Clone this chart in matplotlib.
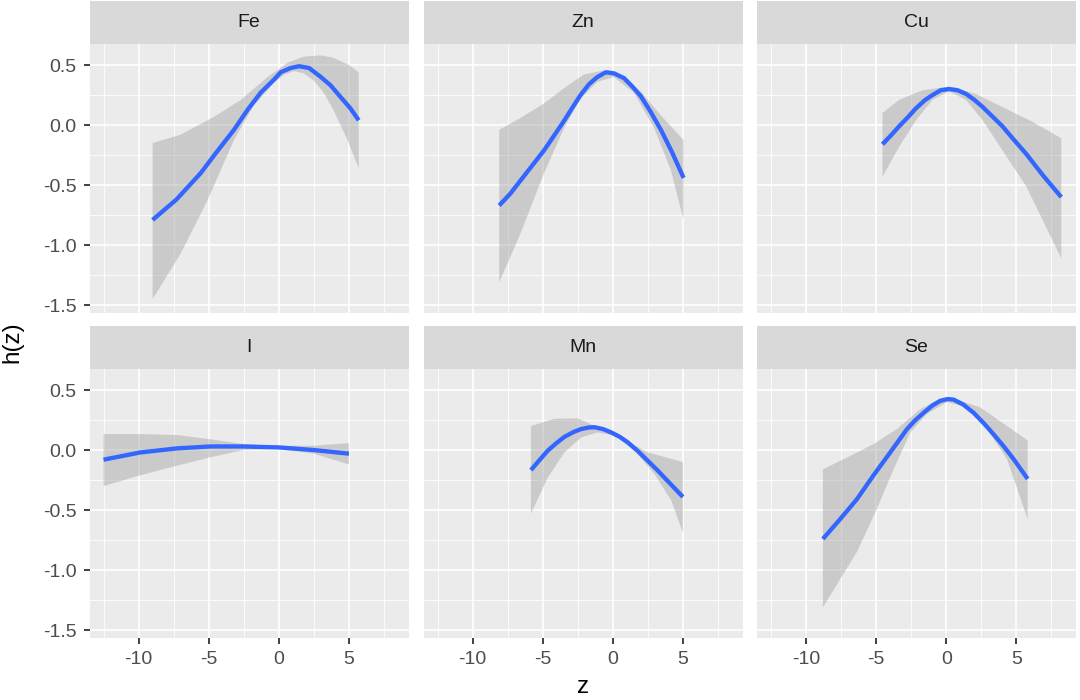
import matplotlib
matplotlib.use("Agg")
import matplotlib.pyplot as plt

plt.rcParams['font.family'] = ['Liberation Sans', 'DejaVu Sans']

# ---------------- data ----------------
panels = ["Fe", "Zn", "Cu", "I", "Mn", "Se"]

fe_x = [-9.0, -7.3, -5.57, -4.4, -3.2, -2.24, -1.29, -0.33, 0.14, 0.84, 1.45, 2.16, 2.5, 3.0, 3.7, 4.43, 5.1, 5.7]
fe_fit = [-0.79, -0.62, -0.40, -0.22, -0.04, 0.125, 0.27, 0.38, 0.44, 0.475, 0.49, 0.475, 0.445, 0.40, 0.33, 0.23, 0.14, 0.04]
fe_up_x = [-9.0, -7.0, -4.6, -2.7, -0.8, 0.64, 1.8, 3.0, 3.9, 5.0, 5.7]
fe_up = [-0.15, -0.08, 0.07, 0.21, 0.40, 0.52, 0.57, 0.58, 0.56, 0.50, 0.44]
fe_lo_x = [-9.0, -7.0, -5.1, -3.2, -1.8, -0.36, 0.4, 1.1, 1.8, 2.5, 3.2, 3.9, 4.9, 5.7]
fe_lo = [-1.45, -1.07, -0.63, -0.125, 0.16, 0.35, 0.42, 0.45, 0.43, 0.37, 0.27, 0.125, -0.125, -0.36]

zn_x = [-8.1, -7.3, -6.57, -5.7, -4.9, -4.2, -3.45, -2.8, -2.3, -1.7, -1.1, -0.5, 0.1, 0.81, 1.4, 2.0, 2.7, 3.43, 4.2, 5.05]
zn_fit = [-0.67, -0.57, -0.46, -0.33, -0.21, -0.09, 0.04, 0.16, 0.25, 0.34, 0.40, 0.44, 0.43, 0.39, 0.32, 0.24, 0.11, -0.04, -0.22, -0.44]
zn_up_x = [-8.1, -6.57, -4.9, -3.45, -2.07, -0.86, 0.57, 2.0, 3.43, 5.05]
zn_up = [-0.04, 0.06, 0.18, 0.31, 0.42, 0.45, 0.42, 0.28, 0.08, -0.125]
zn_lo_x = [-8.1, -6.57, -4.9, -3.45, -2.3, -1.1, 0.07, 1.5, 2.93, 4.14, 5.05]
zn_lo = [-1.31, -0.90, -0.40, -0.02, 0.22, 0.36, 0.40, 0.27, -0.02, -0.375, -0.79]

cu_x = [-4.55, -3.9, -3.36, -2.7, -2.16, -1.5, -0.98, -0.4, 0.2, 0.8, 1.4, 2.0, 2.6, 3.3, 4.0, 4.8, 5.7, 6.9, 8.2]
cu_fit = [-0.16, -0.08, -0.01, 0.07, 0.14, 0.21, 0.25, 0.29, 0.30, 0.29, 0.26, 0.21, 0.15, 0.07, -0.01, -0.12, -0.24, -0.42, -0.60]
cu_up_x = [-4.55, -3.36, -1.7, 0.2, 2.1, 4.0, 6.1, 8.2]
cu_up = [0.10, 0.21, 0.29, 0.32, 0.26, 0.15, 0.03, -0.11]
cu_lo_x = [-4.55, -3.36, -2.16, -0.98, 0.2, 1.4, 2.6, 4.0, 5.7, 8.2]
cu_lo = [-0.43, -0.18, 0.04, 0.21, 0.28, 0.21, 0.04, -0.21, -0.51, -1.11]

i_x = [-12.5, -9.88, -7.26, -4.88, -2.5, 0.0, 2.5, 5.0]
i_fit = [-0.08, -0.02, 0.014, 0.03, 0.03, 0.022, 0.0, -0.03]
i_up_x = [-12.5, -9.88, -7.26, -4.88, -2.5, 0.0, 2.5, 5.0]
i_up = [0.133, 0.133, 0.125, 0.09, 0.05, 0.036, 0.036, 0.058]
i_lo_x = [-12.5, -9.88, -7.26, -4.88, -2.5, 0.0, 2.5, 5.0]
i_lo = [-0.30, -0.21, -0.13, -0.06, 0.0, 0.008, -0.03, -0.12]

mn_x = [-5.84, -5.2, -4.64, -4.0, -3.45, -2.8, -2.26, -1.7, -1.31, -0.7, -0.12, 0.5, 1.07, 1.8, 2.5, 3.2, 3.93, 5.0]
mn_fit = [-0.167, -0.08, -0.005, 0.06, 0.11, 0.15, 0.175, 0.188, 0.19, 0.175, 0.147, 0.11, 0.064, -0.01, -0.09, -0.17, -0.26, -0.39]
mn_up_x = [-5.84, -4.17, -2.5, -1.07, 0.6, 2.5, 5.0]
mn_up = [0.20, 0.26, 0.264, 0.19, 0.10, -0.02, -0.10]
mn_lo_x = [-5.84, -4.64, -3.45, -2.26, -1.07, 0.12, 1.55, 2.98, 4.17, 5.0]
mn_lo = [-0.53, -0.23, -0.02, 0.105, 0.147, 0.12, -0.005, -0.20, -0.42, -0.69]

se_x = [-8.8, -7.57, -6.38, -5.19, -4.0, -2.8, -2.2, -1.62, -1.0, -0.43, 0.1, 0.52, 1.2, 1.95, 2.7, 3.38, 4.1, 4.8, 5.8]
se_fit = [-0.74, -0.575, -0.41, -0.21, -0.02, 0.175, 0.25, 0.31, 0.37, 0.41, 0.425, 0.42, 0.38, 0.31, 0.22, 0.13, 0.03, -0.075, -0.24]
se_up_x = [-8.8, -6.86, -5.19, -3.52, -1.86, -0.43, 1.0, 2.43, 4.33, 5.8]
se_up = [-0.16, -0.05, 0.05, 0.175, 0.34, 0.43, 0.41, 0.355, 0.20, 0.08]
se_lo_x = [-8.8, -7.57, -6.38, -4.95, -3.76, -2.57, -1.38, 0.05, 1.48, 2.9, 4.33, 5.8]
se_lo = [-1.31, -1.075, -0.85, -0.49, -0.16, 0.147, 0.30, 0.40, 0.355, 0.175, -0.075, -0.575]

x_ticks = [-10, -5, 0, 5]
x_minor = [-12.5, -7.5, -2.5, 2.5, 7.5]
y_ticks = [-1.5, -1.0, -0.5, 0.0, 0.5]
y_minor = [-1.25, -0.75, -0.25, 0.25]
x_label = "z"
y_label = "h(z)"

series = {
    "Fe": (fe_x, fe_fit, fe_up_x, fe_up, fe_lo_x, fe_lo),
    "Zn": (zn_x, zn_fit, zn_up_x, zn_up, zn_lo_x, zn_lo),
    "Cu": (cu_x, cu_fit, cu_up_x, cu_up, cu_lo_x, cu_lo),
    "I": (i_x, i_fit, i_up_x, i_up, i_lo_x, i_lo),
    "Mn": (mn_x, mn_fit, mn_up_x, mn_up, mn_lo_x, mn_lo),
    "Se": (se_x, se_fit, se_up_x, se_up, se_lo_x, se_lo),
}

# ---------------- layout ----------------
W, H = 1080, 700
fig = plt.figure(figsize=(W / 100, H / 100), dpi=100)
fig.patch.set_facecolor("white")

col_left = [89.5, 423.5, 757]
panel_w = 319
row_top = [44, 369]
panel_h = 269
strip_h = 43

XLIM = (-13.5, 9.25)
YLIM = (-1.565, 0.675)

for idx, name in enumerate(panels):
    r, c = divmod(idx, 3)
    left = col_left[c]
    top = row_top[r]
    ax = fig.add_axes([left / W, 1 - (top + panel_h) / H, panel_w / W, panel_h / H])
    ax.set_facecolor("#EBEBEB")
    ax.set_xlim(*XLIM)
    ax.set_ylim(*YLIM)
    ax.set_xticks(x_ticks)
    ax.set_xticks(x_minor, minor=True)
    ax.set_yticks(y_ticks)
    ax.set_yticks(y_minor, minor=True)
    ax.grid(which="major", color="white", linewidth=1.2)
    ax.grid(which="minor", color="white", linewidth=0.6)
    ax.set_axisbelow(True)
    for s in ax.spines.values():
        s.set_visible(False)
    ax.tick_params(which="minor", length=0)
    ax.tick_params(which="major", length=4.5, width=1.3, color="#333333",
                   labelcolor="#4D4D4D", labelsize=14, pad=5)
    if c == 0:
        ax.set_yticklabels([f"{v:.1f}" for v in y_ticks])
    else:
        ax.tick_params(axis="y", which="major", length=0, labelleft=False)
    if r == 1:
        ax.set_xticklabels([str(v) for v in x_ticks])
    else:
        ax.tick_params(axis="x", which="major", length=0, labelbottom=False)

    xs, fit, ux, uy, lx, ly = series[name]
    poly_x = list(ux) + list(lx)[::-1]
    poly_y = list(uy) + list(ly)[::-1]
    ax.fill(poly_x, poly_y, color="#999999", alpha=0.4, linewidth=0, zorder=2)
    ax.plot(xs, fit, color="#3366FF", linewidth=3.1, solid_capstyle="butt",
            solid_joinstyle="round", zorder=3)

    # strip
    sax = fig.add_axes([left / W, 1 - top / H, panel_w / W, strip_h / H])
    sax.set_facecolor("#D9D9D9")
    sax.set_xticks([])
    sax.set_yticks([])
    for s in sax.spines.values():
        s.set_visible(False)
    sax.text(0.5, 0.5, name, ha="center", va="center", fontsize=14,
             color="#1A1A1A", transform=sax.transAxes)

fig.text(12 / W, 1 - 342 / H, y_label, rotation=90, ha="center", va="center",
         fontsize=17.5, color="black")
fig.text(583 / W, 1 - 687 / H, x_label, ha="center", va="center",
         fontsize=17.5, color="black")

fig.savefig("out.png", dpi=100, facecolor="white")
